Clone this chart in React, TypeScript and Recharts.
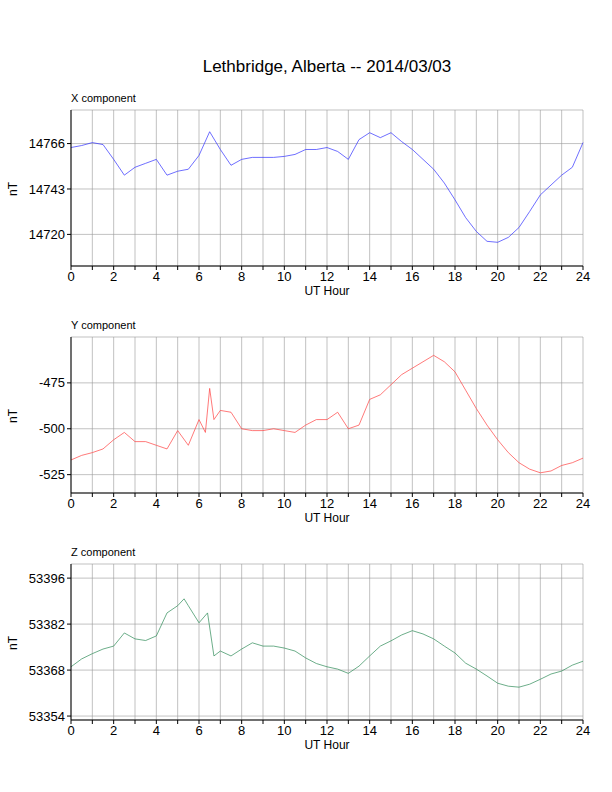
import React from "react";
import { LineChart, Line, XAxis, YAxis, CartesianGrid } from "recharts";

const hoursX = [0,0.5,1,1.5,2,2.5,3,3.5,4,4.5,5,5.5,6,6.5,7,7.5,8,8.5,9,9.5,10,10.5,11,11.5,12,12.5,13,13.5,14,14.5,15,15.5,16,16.5,17,17.5,18,18.5,19,19.5,20,20.5,21,21.5,22,22.5,23,23.5,24];
const xComp = [14764,14765,14766.5,14765.5,14758,14750,14754,14756,14758,14750,14752,14753,14760,14772,14763,14755,14758,14759,14759,14759,14759.5,14760.5,14763,14763,14764,14762,14758,14768,14771.5,14769,14771.5,14767,14763,14758,14753,14746,14737.5,14728.5,14721.5,14716.5,14716,14718.5,14723.5,14731.6,14740,14745,14750,14754,14766.5];

const hoursY = [0,0.5,1,1.5,2,2.5,3,3.5,4,4.5,5,5.5,6,6.3,6.5,6.7,7,7.5,8,8.5,9,9.5,10,10.5,11,11.5,12,12.5,13,13.5,14,14.5,15,15.5,16,16.5,17,17.5,18,18.5,19,19.5,20,20.5,21,21.5,22,22.5,23,23.5,24];
const yComp = [-517,-514.5,-513,-511,-506,-502,-507,-507,-509,-511,-501,-509,-495,-502,-478,-495,-490,-491,-500,-501,-501,-500,-501,-502,-498,-495,-495,-491,-500,-498,-484,-481.5,-476,-470.5,-467,-463.5,-460,-463.5,-469,-479,-489,-498,-506,-513,-518.5,-522,-524,-523,-520,-518.5,-516];

const hoursZ = [0,0.5,1,1.5,2,2.5,3,3.5,4,4.5,5,5.3,5.5,6,6.4,6.7,7,7.5,8,8.5,9,9.5,10,10.5,11,11.5,12,12.5,13,13.5,14,14.5,15,15.5,16,16.5,17,17.5,18,18.5,19,19.5,20,20.5,21,21.5,22,22.5,23,23.5,24];
const zComp = [53369,53371.4,53373,53374.4,53375.3,53379.3,53377.5,53377,53378.4,53385.4,53387.6,53389.7,53387.6,53382.4,53385.4,53372.3,53373.8,53372.3,53374.4,53376.3,53375.3,53375.3,53374.7,53373.8,53371.7,53370,53369,53368.3,53367,53369.2,53372.3,53375.3,53376.9,53378.7,53380,53379,53377.5,53375.3,53373.2,53370.1,53368.3,53366.2,53364,53363.1,53362.8,53363.7,53365.2,53366.8,53367.7,53369.5,53370.7];

const hourTicks = Array.from({ length: 25 }, (_, i) => i);
const FONT = "'Liberation Sans', Arial, sans-serif";

type PanelProps = {
  top: number;
  title: string;
  hours: number[];
  values: number[];
  domain: [number, number];
  ticks: number[];
  color: string;
};

const Panel = ({ top, title, hours, values, domain, ticks, color }: PanelProps) => {
  const data = hours.map((h, i) => ({ h, v: values[i] }));
  return (
    <div style={{ position: "absolute", left: 0, top, width: 612, height: 216 }}>
      <div style={{ position: "absolute", left: 71, top: 2, fontSize: 11 }}>{title}</div>
      <div
        style={{
          position: "absolute",
          left: 6,
          top: 92,
          fontSize: 12,
          transform: "rotate(-90deg)",
        }}
      >
        nT
      </div>
      <div style={{ position: "absolute", left: 0, width: 654, top: 194, textAlign: "center", fontSize: 12 }}>
        UT Hour
      </div>
      <LineChart width={612} height={216} data={data} margin={{ top: 20, right: 29, left: 21, bottom: 10 }}>
        <CartesianGrid stroke="#999" strokeWidth={0.6} />
        <XAxis
          dataKey="h"
          type="number"
          domain={[0, 24]}
          ticks={hourTicks}
          interval={0}
          tickFormatter={(t: number) => (t % 2 === 0 ? String(t) : "")}
          tick={{ fontSize: 13, fill: "#000" }}
          tickSize={4}
          stroke="#000"
          height={30}
        />
        <XAxis xAxisId="top" orientation="top" dataKey="h" type="number" domain={[0, 24]} tick={false} tickLine={false} stroke="#000" strokeWidth={1.5} height={0} />
        <YAxis
          type="number"
          domain={domain}
          ticks={ticks}
          allowDataOverflow
          tick={{ fontSize: 13, fill: "#000" }}
          tickSize={4}
          stroke="#000"
          width={50}
        />
        <YAxis yAxisId="r" orientation="right" domain={domain} tick={false} tickLine={false} stroke="#000" width={0} />
        <Line dataKey="v" type="linear" stroke={color} strokeWidth={0.7} dot={false} isAnimationActive={false} />
      </LineChart>
    </div>
  );
};

export default function App() {
  return (
    <div style={{ position: "absolute", left: 0, top: 0, width: 612, height: 792, background: "#fff", fontFamily: FONT }}>
      <div style={{ position: "absolute", left: 0, width: 654, top: 57, textAlign: "center", fontSize: 17 }}>
        Lethbridge, Alberta -- 2014/03/03
      </div>
      <Panel top={90} title="X component" hours={hoursX} values={xComp} domain={[14704, 14783]} ticks={[14720, 14743, 14766]} color="#3030ff" />
      <Panel top={317} title="Y component" hours={hoursY} values={yComp} domain={[-535, -450]} ticks={[-525, -500, -475]} color="#ff4040" />
      <Panel top={544} title="Z component" hours={hoursZ} values={zComp} domain={[53352.8, 53400.3]} ticks={[53354, 53368, 53382, 53396]} color="#2e8b57" />
    </div>
  );
}
